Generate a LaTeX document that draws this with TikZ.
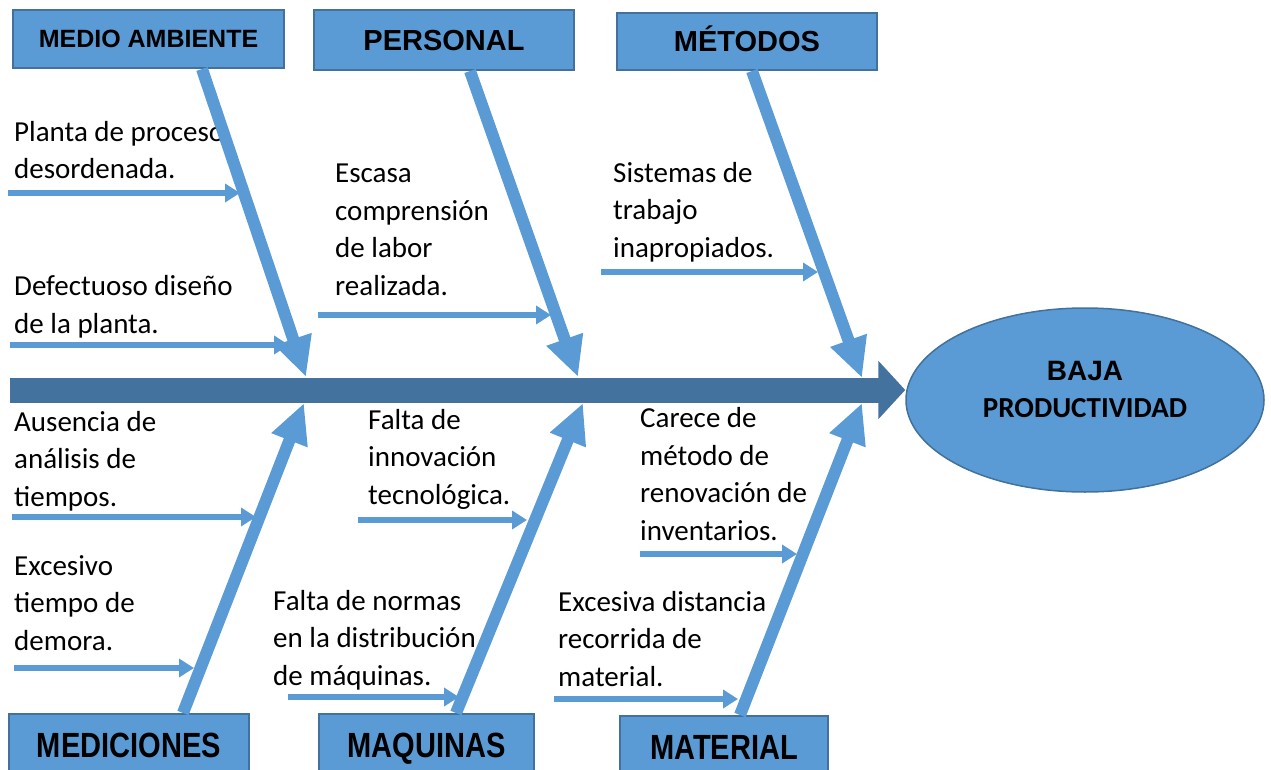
\documentclass[tikz,border=0pt]{standalone}
\usepackage{fontspec}
\setmainfont{Carlito}
\newfontfamily\arialfont{Liberation Sans}
\usetikzlibrary{arrows.meta,shapes.geometric}

\definecolor{boxblue}{HTML}{5B9BD5}
\definecolor{boxedge}{HTML}{41719C}
\definecolor{spineblue}{HTML}{44729E}

\tikzset{
  catbox/.style={draw=boxedge,line width=2pt,fill=boxblue,inner sep=0pt,text height=18pt,text depth=0pt,
    font=\arialfont\bfseries\fontsize{25}{30}\selectfont},
  bigcat/.style={text height=21pt,font=\arialfont\bfseries\fontsize{29}{34}\selectfont},
  lowcat/.style={text height=25pt,font=\arialfont\bfseries\fontsize{35}{40}\selectfont},
  cause/.style={draw=boxblue,line width=5.5pt,-{Triangle[length=15pt,width=18pt]}},
  bone/.style={draw=boxblue,line width=12pt,-{Triangle[length=40pt,width=36pt]}},
  causetext/.style={anchor=base west,align=left,inner sep=0pt,font=\fontsize{29}{37.5}\selectfont},
}

\begin{document}
\begin{tikzpicture}[x=1pt,y=-1pt]
\useasboundingbox (0,0) rectangle (1271,770);
\clip (0,0) rectangle (1271,770);

% effect
\node[ellipse,draw=boxedge,line width=1.5pt,fill=boxblue,minimum width=358pt,minimum height=184pt,inner sep=0pt] (efecto) at (1085,400) {};
\node[align=center,inner sep=0pt,font=\fontsize{29}{37}\selectfont] (efectotxt) at ([yshift=11pt]efecto.center)
  {{\arialfont\bfseries\fontsize{28}{37}\selectfont BAJA}\\{\bfseries PRODUCTIVIDAD}};

% categories
\node[catbox,minimum width=271pt,minimum height=58pt] (medio) at (148.5,39) {MEDIO AMBIENTE};
\node[catbox,bigcat,minimum width=260pt,minimum height=60pt] (personal) at (444,40) {PERSONAL};
\node[catbox,bigcat,minimum width=260pt,minimum height=57pt] (metodos) at (747,41.5) {MÉTODOS};
\node[catbox,lowcat,minimum width=240pt,minimum height=62pt] (mediciones) at (129,745) {\scalebox{0.83}[1]{MEDICIONES}};
\node[catbox,lowcat,minimum width=215pt,minimum height=62pt] (maquinas) at (426.5,745) {\scalebox{0.83}[1]{MAQUINAS}};
\node[catbox,lowcat,minimum width=208pt,minimum height=62pt] (material) at (724,747) {\scalebox{0.83}[1]{MATERIAL}};

% causes (placed at the baseline of the last line)
\foreach \n/\x/\y/\t in {
  pa/14/179/{Planta de proceso\\desordenada.},
  pb/14/333/{Defectuoso diseño\\de la planta.},
  pc/335/295/{Escasa\\comprensión\\de labor\\realizada.},
  pd/613/257/{Sistemas de\\trabajo\\inapropiados.},
  pe/14/506/{Ausencia de\\análisis de\\tiempos.},
  pf/14/650/{Excesivo\\tiempo de\\demora.},
  pg/368/504/{Falta de\\innovación\\tecnológica.},
  ph/273/685/{Falta de normas\\en la distribución\\de máquinas.},
  pi/640/540/{Carece de\\método de\\renovación de\\inventarios.},
  pj/558/686/{Excesiva distancia\\recorrida de\\material.}}
  \node[causetext] (\n) at (\x,\y) {\t};

\foreach \n/\xa/\xb/\y in {pa/8/240/193, pb/10/289/345, pc/318/551/315, pd/601/818/272,
  pe/12/256/517, pf/14/194/668, pg/358/527/520, ph/288/459/697, pi/640/797/554, pj/554/738/699}
{
  \coordinate (\n0) at (\xa,\y);
  \coordinate (\n1) at (\xb,\y);
  \draw[cause] (\n0) -- (\n1);
}

% bones
\coordinate (j1t) at (306,377);
\coordinate (j2t) at (578,377);
\coordinate (j3t) at (862,378);
\coordinate (j1b) at (304,403);
\coordinate (j2b) at (583,403);
\coordinate (j3b) at (862,403);
\draw[bone] ([xshift=53.5pt]medio.south) -- (j1t);
\draw[bone] ([xshift=26pt]personal.south) -- (j2t);
\draw[bone] ([xshift=5pt]metodos.south) -- (j3t);
\draw[bone] ([xshift=54pt]mediciones.north) -- (j1b);
\draw[bone] ([xshift=29.5pt]maquinas.north) -- (j2b);
\draw[bone] ([xshift=16pt]material.north) -- (j3b);

% spine
\coordinate (tail) at (10,390);
\draw[spineblue,line width=25pt,-{Triangle[length=27pt,width=57pt]}] (tail) -- (tail -| efecto.west);
\end{tikzpicture}
\end{document}
